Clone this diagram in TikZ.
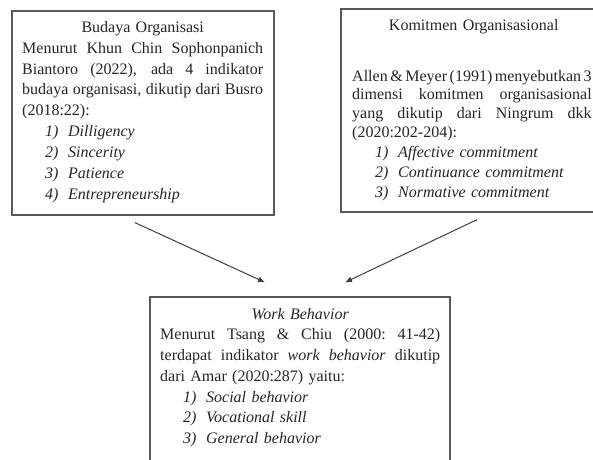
\documentclass[tikz,border=0pt]{standalone}
\usepackage{fontspec}
\setmainfont{Liberation Serif}
\usetikzlibrary{arrows.meta,calc}
\tikzset{
  boxframe/.style={draw=black!65, line width=1.3pt, inner sep=0pt},
  boxtext/.style={anchor=north west, inner sep=0pt, align=left, text=black!85},
  linkarrow/.style={draw=black!75, line width=1pt, -{Latex[length=7pt,width=6pt]}}
}
\newcommand{\jline}[2]{\leavevmode{\spaceskip=3.6pt plus 1fil minus 2pt\xspaceskip=3.6pt plus 1fil minus 2pt\hbox to #1{#2}}}
\newcommand{\itemline}[2]{\hspace*{23pt}\makebox[23pt][l]{\textit{#1}}\textit{#2}}
\begin{document}
\begin{tikzpicture}[x=1pt,y=-1pt]
\useasboundingbox (0,0) rectangle (593,459);
\clip (0,0) rectangle (593,459);
\fill[white] (0,0) rectangle (593,459);

% frames
\node[boxframe, minimum width=262pt, minimum height=204pt] (b1) at (143,113) {};
\node[boxframe, minimum width=265pt, minimum height=203pt] (b2) at (473.5,110.5) {};
\node[boxframe, minimum width=300pt, minimum height=164pt] (b3) at (300,379) {};

% texts
\node[boxtext, text width=241pt, font=\fontsize{16}{20.9}\selectfont] (t1) at (22,17.4) {%
\strut\makebox[241pt][c]{Budaya Organisasi}\\
\jline{241pt}{Menurut Khun Chin Sophonpanich}\\
\jline{241pt}{Biantoro (2022), ada 4 indikator}\\
\jline{241pt}{budaya organisasi, dikutip dari Busro}\\
(2018:22):\\
\itemline{1)}{Dilligency}\\
\itemline{2)}{Sincerity}\\
\itemline{3)}{Patience}\\
\itemline{4)}{Entrepreneurship}};

\node[boxtext, text width=243pt, font=\fontsize{16}{18.8}\selectfont] (t2) at (352,16.8) {%
\strut\makebox[243pt][c]{Komitmen Organisasional}\\[32.2pt]
\jline{239.5pt}{Allen \& Meyer (1991) menyebutkan 3}\\
\jline{239.5pt}{dimensi komitmen organisasional}\\
\jline{239.5pt}{yang dikutip dari Ningrum dkk}\\
(2020:202-204):\\[1.2pt]
\itemline{1)}{Affective commitment}\\[1.2pt]
\itemline{2)}{Continuance commitment}\\[1.2pt]
\itemline{3)}{Normative commitment}};

\node[boxtext, text width=280pt, font=\fontsize{16}{20.7}\selectfont] (t3) at (160,304.5) {%
\strut\makebox[280pt][c]{\textit{Work Behavior}}\\
\jline{280pt}{Menurut Tsang \& Chiu (2000: 41-42)}\\
\jline{280pt}{terdapat indikator \textit{work behavior} dikutip}\\
dari Amar (2020:287) yaitu:\\
\itemline{1)}{Social behavior}\\
\itemline{2)}{Vocational skill}\\
\itemline{3)}{General behavior}};

% connectors
\coordinate (s1) at ($(b1.south)+(-8,7)$);
\coordinate (e1) at ($(b3.north)+(-35,-14)$);
\coordinate (s2) at ($(b2.south)+(3.5,7)$);
\coordinate (e2) at ($(b3.north)+(45,-14)$);
\draw[linkarrow] (s1) -- (e1);
\draw[linkarrow] (s2) -- (e2);
\end{tikzpicture}
\end{document}
